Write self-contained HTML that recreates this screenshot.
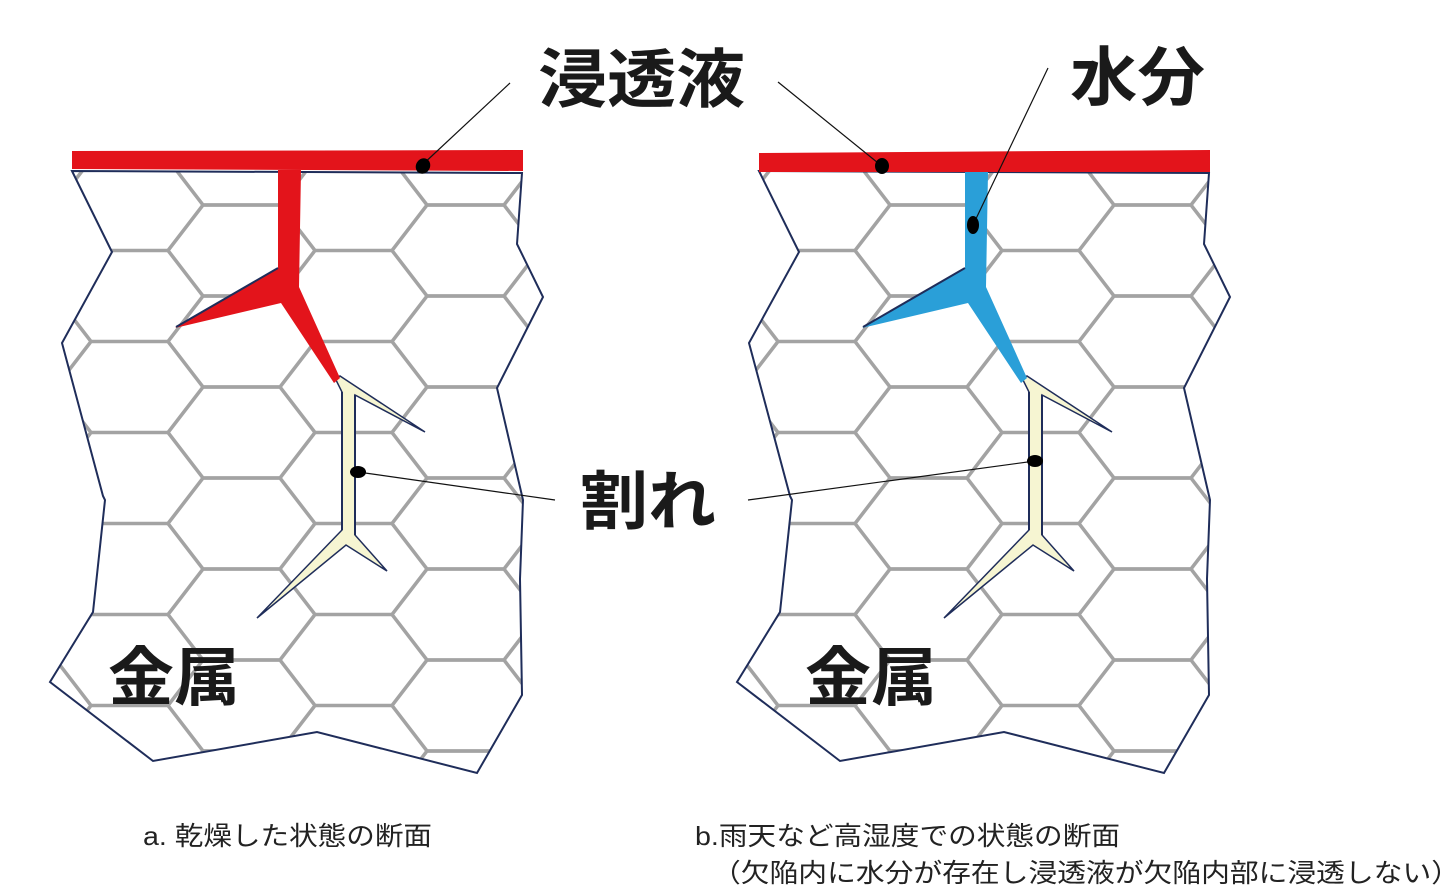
<!DOCTYPE html>
<html><head><meta charset="utf-8"><style>
html,body{margin:0;padding:0;background:#fff;}
svg{display:block;}
text{font-family:"Liberation Sans","Noto Sans CJK JP",sans-serif;}
</style></head><body>
<svg width="1449" height="894" viewBox="0 0 1449 894" xmlns="http://www.w3.org/2000/svg">
<defs>
<g id="hexcell" fill="none" stroke="#a3a3a3" stroke-width="3.5">
<path d="M0 45.5 L35 0 L112 0 L147 45.5 L224 45.5 M0 45.5 L35 91 M147 45.5 L112 91 M35 91 L112 91"/>
</g>
<pattern id="hex" patternUnits="userSpaceOnUse" x="168" y="205" width="224" height="91">
<use href="#hexcell"/>
<use href="#hexcell" x="-224"/>
<use href="#hexcell" x="224"/>
<use href="#hexcell" y="-91"/>
<use href="#hexcell" y="91"/>
<use href="#hexcell" x="-224" y="-91"/>
<use href="#hexcell" x="224" y="91"/>
</pattern>
<g id="panel">
<polygon points="72,171 112,252 62,343 103,496 105,500 93,612 50,682 153,761 317,732 477,773 522,695 520,579 523,500 497,388 543,297 517,244 522,173" fill="url(#hex)" stroke="#1f2d5a" stroke-width="2"/>
<polygon points="335,378 342,392 342,530 257,618 346,545 387,571 355,535 355,395 425,432 340,376" fill="#f6f5d2" stroke="#1f2d5a" stroke-width="1.5"/>
<line x1="342" y1="392" x2="342" y2="530" stroke="#1f2d5a" stroke-width="2"/>
<line x1="355" y1="395" x2="355" y2="535" stroke="#1f2d5a" stroke-width="2"/>
</g>
</defs>

<use href="#panel"/>
<use href="#panel" x="687"/>

<polygon points="72,151 523,150 523,171 72,169" fill="#e3141b"/>
<polygon points="278,170 301,170 299,287 340,378 334,383 281,303 175,328 270,272 278,268" fill="#e3141b"/>
<line x1="176" y1="327" x2="278" y2="268" stroke="#1f2d5a" stroke-width="2"/>
<polygon points="759,153 1210,150 1210,172 759,172" fill="#e3141b"/>
<polygon points="965,172 988,172 986,287 1027,378 1021,383 968,303 862,328 957,272 965,268" fill="#2a9fd8"/>
<line x1="863" y1="327" x2="965" y2="268" stroke="#1f2d5a" stroke-width="2"/>

<g stroke="#111" stroke-width="1.2">
<line x1="420" y1="167" x2="510" y2="83"/>
<line x1="358" y1="472" x2="555" y2="500"/>
<line x1="883" y1="167" x2="778" y2="82"/>
<line x1="973" y1="225" x2="1048" y2="68"/>
<line x1="1035" y1="461" x2="748" y2="500"/>
</g>
<g fill="#000">
<ellipse cx="423" cy="166" rx="7" ry="8" transform="rotate(30 423 166)"/>
<ellipse cx="358" cy="472" rx="8" ry="6"/>
<ellipse cx="882" cy="166" rx="7" ry="8"/>
<ellipse cx="973" cy="225" rx="6" ry="9"/>
<ellipse cx="1035" cy="461" rx="8" ry="6"/>
</g>

<g font-weight="bold" font-size="64" fill="#1a1a1a">
<text x="538" y="102" textLength="207" lengthAdjust="spacingAndGlyphs">浸透液</text>
<text x="1070" y="100" textLength="135" lengthAdjust="spacingAndGlyphs">水分</text>
<text x="580" y="524" textLength="136" lengthAdjust="spacingAndGlyphs">割れ</text>
<text x="108" y="700" textLength="132" lengthAdjust="spacingAndGlyphs">金属</text>
<text x="805" y="700" textLength="132" lengthAdjust="spacingAndGlyphs">金属</text>
</g>
<g font-size="26" fill="#222">
<text x="143" y="845" textLength="289" lengthAdjust="spacingAndGlyphs">a. 乾燥した状態の断面</text>
<text x="695" y="845" textLength="425" lengthAdjust="spacingAndGlyphs">b.雨天など高湿度での状態の断面</text>
<text x="712" y="882" textLength="748" lengthAdjust="spacingAndGlyphs">（欠陥内に水分が存在し浸透液が欠陥内部に浸透しない）</text>
</g>
</svg>
</body></html>
